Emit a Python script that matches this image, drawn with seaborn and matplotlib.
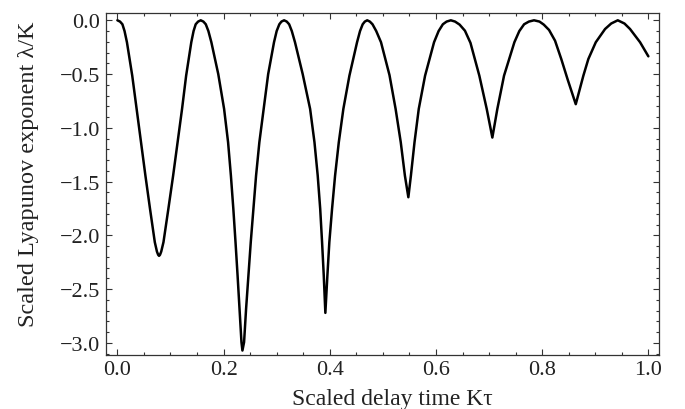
import numpy as np
import pandas as pd
import matplotlib
matplotlib.use("Agg")
import matplotlib.pyplot as plt
import seaborn as sns
from matplotlib.ticker import MultipleLocator

# Values (scaled delay time, scaled exponent)
delay_time = [
    # first dip (rounded bottom)
    0.000, 0.005, 0.0095, 0.0135, 0.018, 0.028, 0.0362, 0.0445, 0.0528, 0.0615,
    0.0705, 0.0745, 0.0768, 0.0785, 0.0803, 0.0826, 0.0868, 0.0960, 0.1050, 0.1133,
    0.1218, 0.1295, 0.1392, 0.1435, 0.1475, 0.152, 0.157,
    # second dip
    0.162, 0.1665, 0.1714, 0.177, 0.190, 0.201, 0.2085, 0.2138, 0.2184, 0.2225,
    0.2264, 0.230, 0.2337, 0.2355, 0.2386, 0.2424, 0.2467, 0.2512, 0.2561, 0.2612,
    0.2674, 0.2755, 0.284, 0.295, 0.300, 0.305, 0.309, 0.314,
    # third dip
    0.319, 0.3235, 0.3285, 0.3345, 0.349, 0.363, 0.3712, 0.3773, 0.3820, 0.3855,
    0.3887, 0.3917, 0.3955, 0.3992, 0.4043, 0.410, 0.417, 0.4256, 0.437, 0.4514,
    0.457, 0.462, 0.466, 0.4705,
    # fourth dip
    0.4755, 0.4805, 0.4875, 0.4965, 0.5125, 0.524, 0.5337, 0.5415, 0.548, 0.5528,
    0.5596, 0.5676, 0.5795, 0.5964, 0.605, 0.613, 0.620, 0.628,
    # fifth dip
    0.636, 0.6445, 0.6546, 0.665, 0.6817, 0.6956, 0.7062, 0.7156, 0.7282, 0.7477,
    0.757, 0.766, 0.775, 0.7847,
    # sixth dip and tail
    0.795, 0.803, 0.813, 0.8243, 0.836, 0.848, 0.8633, 0.8776, 0.887, 0.901,
    0.9185, 0.930, 0.9424, 0.955, 0.9655, 0.9844, 1.000,
]
lyapunov = [
    0.000, -0.012, -0.037, -0.10, -0.204, -0.515, -0.824, -1.134, -1.444, -1.754,
    -2.063, -2.15, -2.18, -2.19, -2.18, -2.15, -2.063, -1.754, -1.444, -1.134,
    -0.824, -0.515, -0.204, -0.10, -0.037, -0.012, 0.000,
    -0.012, -0.037, -0.10, -0.204, -0.50, -0.824, -1.134, -1.444, -1.754, -2.063,
    -2.374, -2.683, -2.993, -3.07, -2.993, -2.683, -2.374, -2.063, -1.754, -1.444,
    -1.134, -0.824, -0.50, -0.204, -0.10, -0.037, -0.012, 0.000,
    -0.012, -0.037, -0.10, -0.204, -0.50, -0.824, -1.134, -1.444, -1.754, -2.063,
    -2.374, -2.72, -2.374, -2.063, -1.754, -1.444, -1.134, -0.824, -0.515, -0.204,
    -0.10, -0.037, -0.012, 0.000,
    -0.012, -0.037, -0.10, -0.204, -0.51, -0.824, -1.134, -1.444, -1.645, -1.444,
    -1.134, -0.824, -0.515, -0.204, -0.10, -0.037, -0.012, 0.000,
    -0.012, -0.04, -0.097, -0.21, -0.515, -0.824, -1.09, -0.824, -0.515, -0.204,
    -0.10, -0.037, -0.012, 0.000,
    -0.012, -0.04, -0.09, -0.19, -0.36, -0.55, -0.78, -0.515, -0.36, -0.204,
    -0.081, -0.03, 0.000, -0.03, -0.081, -0.204, -0.335,
]

x_ticks = [0.0, 0.2, 0.4, 0.6, 0.8, 1.0]
y_ticks = [0.0, -0.5, -1.0, -1.5, -2.0, -2.5, -3.0]
x_label = "Scaled delay time K\u03c4"
y_label = "Scaled Lyapunov exponent \u03bb/K"

df = pd.DataFrame({"t": delay_time, "lam": lyapunov})

sns.set_theme(style="ticks")
plt.rcParams["font.family"] = ["Liberation Serif", "DejaVu Serif"]
plt.rcParams["axes.unicode_minus"] = True

fig = plt.figure(figsize=(6.85, 4.10), dpi=100)
ax = fig.add_axes([0.1543, 0.1324, 0.962 - 0.1543, 0.9659 - 0.1324])

sns.lineplot(data=df, x="t", y="lam", ax=ax, sort=False, estimator=None,
             color="black", linewidth=1.8)
for ln in ax.get_lines():
    ln.set_solid_joinstyle("round")
    ln.set_solid_capstyle("round")

ax.set_xlim(-0.022, 1.02)
ax.set_ylim(-3.109, 0.068)
ax.set_xticks(x_ticks)
ax.set_yticks(y_ticks)
ax.set_xticklabels([f"{v:.1f}" for v in x_ticks])
ax.set_yticklabels([f"{v:.1f}".replace("-", "\u2212") for v in y_ticks])
ax.xaxis.set_minor_locator(MultipleLocator(0.05))
ax.yaxis.set_minor_locator(MultipleLocator(0.1))

for side in ["top", "right", "bottom", "left"]:
    ax.spines[side].set_visible(True)
    ax.spines[side].set_color("#333333")
    ax.spines[side].set_linewidth(0.9)

ax.tick_params(which="both", direction="in", top=True, right=True,
               color="#333333", width=0.8)
ax.tick_params(which="major", length=4.5, labelsize=16, pad=4,
               labelcolor="#222222")
ax.tick_params(which="minor", length=2.5)

ax.set_xlabel(x_label, fontsize=17, labelpad=6.5, color="#222222")
ax.set_ylabel(y_label, fontsize=17.5, labelpad=15, color="#222222")
ax.xaxis.label.set_x(0.5175)
ax.yaxis.label.set_y(0.532)

fig.savefig("out.png", dpi=100)
